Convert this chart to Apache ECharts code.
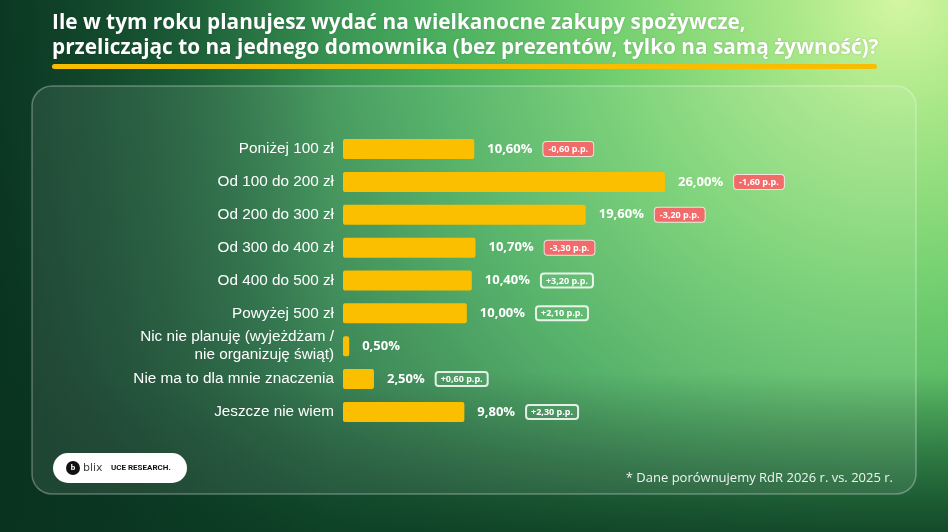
<!DOCTYPE html>
<html>
<head>
<meta charset="utf-8">
<script src="https://cdn.jsdelivr.net/npm/echarts@6/dist/echarts.min.js"></script>
<style>
html,body{margin:0;padding:0;background:#1a6a3c;}
#c{width:948px;height:532px;}
</style>
</head>
<body>
<div id="c"></div>
<script>
var titleLines = ['Ile w tym roku planujesz wydać na wielkanocne zakupy spożywcze,',
                  'przeliczając to na jednego domownika (bez prezentów, tylko na samą żywność)?'];
var categories = ['Poniżej 100 zł','Od 100 do 200 zł','Od 200 do 300 zł','Od 300 do 400 zł','Od 400 do 500 zł','Powyżej 500 zł','Nic nie planuję (wyjeżdżam /\nnie organizuję świąt)','Nie ma to dla mnie znaczenia','Jeszcze nie wiem'];
var values = [10.6, 26.0, 19.6, 10.7, 10.4, 10.0, 0.5, 2.5, 9.8];
var changes = [-0.6, -1.6, -3.2, -3.3, 3.2, 2.1, null, 0.6, 2.3];
var footnote = '* Dane porównujemy RdR 2026 r. vs. 2025 r.';

function fmt(v){ return v.toFixed(2).replace('.', ','); }

var chart = echarts.init(document.getElementById('c'), null, {renderer:'canvas'});

var W = 948, H = 532;
var graphics = [
  {type:'rect', z:-10, silent:true, shape:{x:0,y:0,width:W,height:H},
   style:{fill:{type:'radial', x:900, y:0, r:950, global:true,
     colorStops:[{offset:0,color:'#d4f6a2'},{offset:0.12,color:'#a8e788'},{offset:0.3,color:'#74d070'},{offset:0.5,color:'#47ac5d'},{offset:0.75,color:'#236f42'},{offset:1,color:'#0c3f27'}]}}},
  {type:'rect', z:-9, silent:true, shape:{x:0,y:0,width:W,height:H},
   style:{fill:{type:'linear', x:0, y:0, x2:0, y2:1,
     colorStops:[{offset:0,color:'rgba(10,50,30,0)'},{offset:0.7,color:'rgba(10,50,30,0)'},{offset:1,color:'rgba(12,60,35,0.85)'}]}}},
  {type:'rect', z:-9, silent:true, shape:{x:0,y:0,width:W,height:H},
   style:{fill:{type:'linear', x:0, y:0, x2:1, y2:0,
     colorStops:[{offset:0,color:'rgba(8,45,28,0.6)'},{offset:0.35,color:'rgba(8,45,28,0)'},{offset:1,color:'rgba(8,45,28,0)'}]}}},
  {type:'rect', z:-8, silent:true, shape:{x:32,y:86,width:884,height:408,r:20},
   style:{fill:'rgba(255,255,255,0.09)', stroke:'rgba(255,255,255,0.3)', lineWidth:1.5}},
  {type:'text', z:5, left:52, top:13, silent:true,
   style:{text:titleLines[0], fill:'#ffffff', font:'bold 20.8px "Open Sans"', textShadowColor:'rgba(0,0,0,0.2)', textShadowBlur:2}},
  {type:'text', z:5, left:52, top:38, silent:true,
   style:{text:titleLines[1], fill:'#ffffff', font:'bold 20.8px "Open Sans"', textShadowColor:'rgba(0,0,0,0.2)', textShadowBlur:2}},
  {type:'rect', z:5, silent:true, shape:{x:52,y:64,width:825,height:5,r:2.5}, style:{fill:'#f7be00'}},
  {type:'rect', z:5, silent:true, shape:{x:53,y:453,width:134,height:30,r:15}, style:{fill:'#ffffff'}},
  {type:'circle', z:6, silent:true, shape:{cx:73,cy:468,r:7}, style:{fill:'#111111'}},
  {type:'text', z:7, silent:true, x:73, y:468, style:{text:'b', fill:'#ffffff', font:'bold 8px Roboto', align:'center', verticalAlign:'middle'}},
  {type:'text', z:6, silent:true, x:83, y:468, style:{text:'blix', fill:'#444444', font:'11px "DejaVu Sans"', verticalAlign:'middle'}},
  {type:'text', z:6, silent:true, x:111, y:468, style:{text:'UCE RESEARCH.', fill:'#111111', font:'bold 8px Roboto', verticalAlign:'middle'}},
  {type:'text', z:6, silent:true, x:893, y:478, style:{text:footnote, fill:'rgba(255,255,255,0.92)', font:'13px "Open Sans"', align:'right', verticalAlign:'middle'}}
];

var rich = {
  v:{color:'#ffffff', fontFamily:'Open Sans', fontWeight:'bold', fontSize:13},
  g:{width:11},
  neg:{color:'#ffffff', fontFamily:'Open Sans', fontWeight:'bold', fontSize:9, backgroundColor:'#f26b6b', borderColor:'rgba(255,230,230,0.9)', borderWidth:1, borderRadius:3, padding:[3,5,2,5]},
  pos:{color:'#ffffff', fontFamily:'Open Sans', fontWeight:'bold', fontSize:9, backgroundColor:'rgba(255,255,255,0.04)', borderColor:'rgba(255,255,255,0.85)', borderWidth:1, borderRadius:3, padding:[3,5,2,5]}
};

var option = {
  animation:false,
  graphic: graphics,
  grid:{left:343, right:233.5, top:132.6, bottom:103.6, containLabel:false},
  xAxis:{type:'value', min:0, max:30, show:false},
  yAxis:{type:'category', data:categories, inverse:true,
    axisLine:{show:false}, axisTick:{show:false}, splitLine:{show:false},
    axisLabel:{color:'#ffffff', fontFamily:'"Liberation Sans", Arial, sans-serif', fontSize:15.3, lineHeight:18, margin:9}},
  series:[{
    type:'bar', data:values, barWidth:20,
    itemStyle:{color:'#fbbf00', borderRadius:2},
    label:{show:true, position:'right', distance:13,
      formatter:function(p){
        var c = changes[p.dataIndex];
        var s = '{v|' + fmt(p.value) + '%}';
        if (c !== null) {
          s += '{g|}' + (c < 0 ? '{neg|-' : '{pos|+') + fmt(Math.abs(c)) + ' p.p.}';
        }
        return s;
      },
      rich: rich}
  }]
};
chart.setOption(option);
</script>
</body>
</html>
